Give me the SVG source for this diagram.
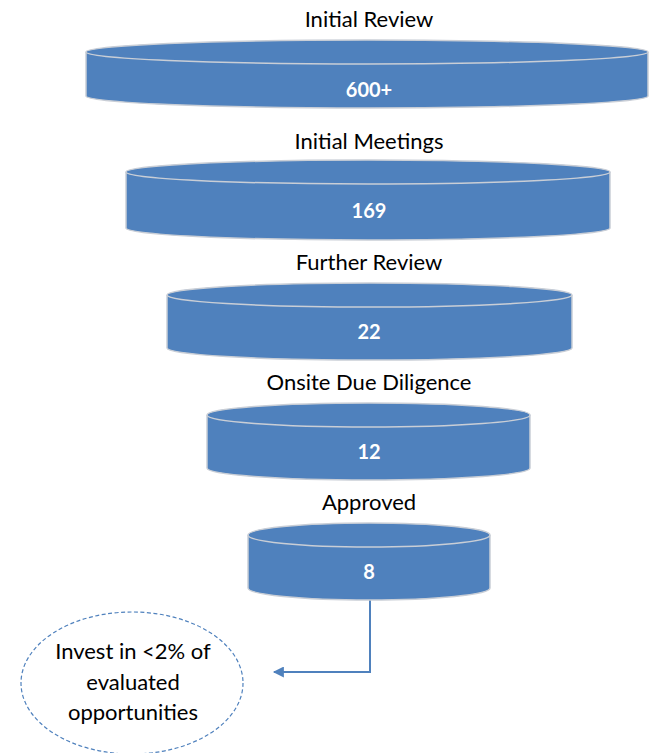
<svg xmlns="http://www.w3.org/2000/svg" width="650" height="753" viewBox="0 0 650 753">
<defs>
<style>
.body{fill:#4F81BD;stroke:#C9CED6;stroke-width:1.5}
.top{fill:#4F81BD;stroke:#C9CED6;stroke-width:1.5}
.lbl{font-family:Lato,"Open Sans","Liberation Sans",sans-serif;font-size:22px;fill:#000;text-anchor:middle}
.num{font-family:Lato,"Open Sans","Liberation Sans",sans-serif;font-size:20px;font-weight:bold;fill:#fff;text-anchor:middle}
.note{font-family:Lato,"Open Sans","Liberation Sans",sans-serif;font-size:22px;fill:#000;text-anchor:middle}
</style>
<marker id="arr" viewBox="0 0 10 10" refX="9" refY="5" markerWidth="12" markerHeight="11" orient="auto" markerUnits="userSpaceOnUse">
<path d="M0,0 L10,5 L0,10 z" fill="#4F81BD"/>
</marker>
</defs>
<rect width="650" height="753" fill="#fff"/>
<g id="connectors">
<path d="M370,600 V672 H274" fill="none" stroke="#4F81BD" stroke-width="2" marker-end="url(#arr)"/>
</g>
<g id="node-initial-review">
<text class="lbl" x="369" y="27">Initial Review</text>
<path class="body" d="M86,52 V96 A281,12 0 0 0 648,96 V52"/>
<ellipse class="top" cx="367" cy="52" rx="281" ry="12"/>
<text class="num" x="369" y="97">600+</text>
</g>
<g id="node-initial-meetings">
<text class="lbl" x="369" y="149">Initial Meetings</text>
<path class="body" d="M126,172 V228 A242,12 0 0 0 610,228 V172"/>
<ellipse class="top" cx="368" cy="172" rx="242" ry="12"/>
<text class="num" x="369" y="218">169</text>
</g>
<g id="node-further-review">
<text class="lbl" x="369" y="270">Further Review</text>
<path class="body" d="M167,295 V348 A202.5,12 0 0 0 572,348 V295"/>
<ellipse class="top" cx="369.5" cy="295" rx="202.5" ry="12"/>
<text class="num" x="369" y="339">22</text>
</g>
<g id="node-onsite">
<text class="lbl" x="369" y="390">Onsite Due Diligence</text>
<path class="body" d="M207,415 V468 A161.5,12 0 0 0 530,468 V415"/>
<ellipse class="top" cx="368.5" cy="415" rx="161.5" ry="12"/>
<text class="num" x="369" y="459">12</text>
</g>
<g id="node-approved">
<text class="lbl" x="369" y="510">Approved</text>
<path class="body" d="M248,535 V588 A121,12 0 0 0 490,588 V535"/>
<ellipse class="top" cx="369" cy="535" rx="121" ry="12"/>
<text class="num" x="369" y="579">8</text>
</g>
<g id="node-invest">
<ellipse cx="132" cy="683" rx="111" ry="71" fill="#fff" stroke="#4F81BD" stroke-width="1.2" stroke-dasharray="4,2.5"/>
<text class="note" x="133" y="659">Invest in &lt;2% of</text>
<text class="note" x="133" y="690">evaluated</text>
<text class="note" x="133" y="720">opportunities</text>
</g>
</svg>
